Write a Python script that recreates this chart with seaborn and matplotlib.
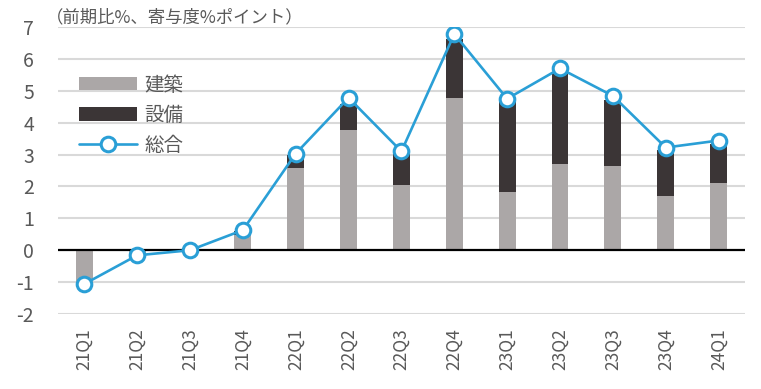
import matplotlib
matplotlib.use("Agg")
import matplotlib.pyplot as plt
from matplotlib.patches import Patch
from matplotlib.lines import Line2D
import seaborn as sns
import pandas as pd
import numpy as np

quarters = ["21Q1", "21Q2", "21Q3", "21Q4", "22Q1", "22Q2", "22Q3",
            "22Q4", "23Q1", "23Q2", "23Q3", "23Q4", "24Q1"]
kenchiku = [-1.00, -0.10, 0.00, 0.48, 2.57, 3.78, 2.03, 4.78, 1.84, 2.70, 2.63, 1.69, 2.12]
setsubi = [-0.05, -0.06, 0.00, 0.12, 0.43, 0.82, 1.02, 1.85, 2.80, 2.87, 2.07, 1.45, 1.22]
sogo = [-1.06, -0.16, 0.00, 0.63, 3.03, 4.78, 3.10, 6.78, 4.75, 5.70, 4.84, 3.22, 3.44]

sns.set_theme(style="white")
plt.rcParams['font.family'] = ['Noto Sans CJK JP', 'DejaVu Sans']
plt.rcParams['axes.unicode_minus'] = False

GRAY = "#aba7a7"
DARK = "#3b3536"
BLUE = "#2a9fd6"
TXT = "#595959"

df = pd.DataFrame({"q": quarters, "k": kenchiku, "s": setsubi, "t": sogo})
bottoms = [max(k, 0) if s >= 0 else min(k, 0) for k, s in zip(kenchiku, setsubi)]
df["b"] = bottoms

fig = plt.figure(figsize=(7.61, 3.89), dpi=100)
ax = fig.add_axes([0.076, 0.1928, 0.903, 0.7378])

for yv in range(-2, 8):
    if yv != 0:
        ax.axhline(yv, color="#d9d9d9", lw=1.5, zorder=0)

sns.barplot(data=df, x="q", y="k", color=GRAY, width=0.32, ax=ax,
            saturation=1, zorder=2, linewidth=0)
sns.barplot(data=df, x="q", y="s", color=DARK, width=0.32, ax=ax,
            saturation=1, bottom=df["b"].values, zorder=2, linewidth=0)
ax.axhline(0, color="black", lw=1.6, zorder=3)
sns.pointplot(data=df, x="q", y="t", color=BLUE, ax=ax, markers="o",
              linestyles="-", markersize=10.5, markerfacecolor="white",
              markeredgecolor=BLUE, markeredgewidth=2.2, linewidth=1.9,
              zorder=5)

ax.set_ylim(-2, 7)
ax.set_xlim(-0.5, len(quarters) - 0.5)
ax.set_yticks(range(-2, 8))
ax.set_xlabel("")
ax.set_ylabel("")
for sp in ax.spines.values():
    sp.set_visible(False)
ax.tick_params(axis="y", labelsize=14, colors=TXT, length=0, pad=17)
ax.tick_params(axis="x", labelsize=12.5, colors=TXT, length=0, pad=10,
               labelrotation=90)
for lab in ax.get_yticklabels():
    lab.set_horizontalalignment("right")
ax.grid(False)

handles = [Patch(facecolor=GRAY, edgecolor="none"),
           Patch(facecolor=DARK, edgecolor="none"),
           Line2D([0], [0], color=BLUE, lw=1.9, marker="o", markersize=10.5,
                  markerfacecolor="white", markeredgecolor=BLUE,
                  markeredgewidth=2.2)]
leg = ax.legend(handles, ["建築", "設備", "総合"], loc="upper left",
                bbox_to_anchor=(0.006, 0.895), frameon=False, fontsize=14,
                handlelength=2.95, handleheight=0.67, labelspacing=0.47,
                handletextpad=0.4)
for t in leg.get_texts():
    t.set_color(TXT)

fig.text(0.060, 0.955, "（前期比%、寄与度%ポイント）", fontsize=12.5, color=TXT,
         ha="left", va="center")

fig.savefig("out.png", dpi=100)
